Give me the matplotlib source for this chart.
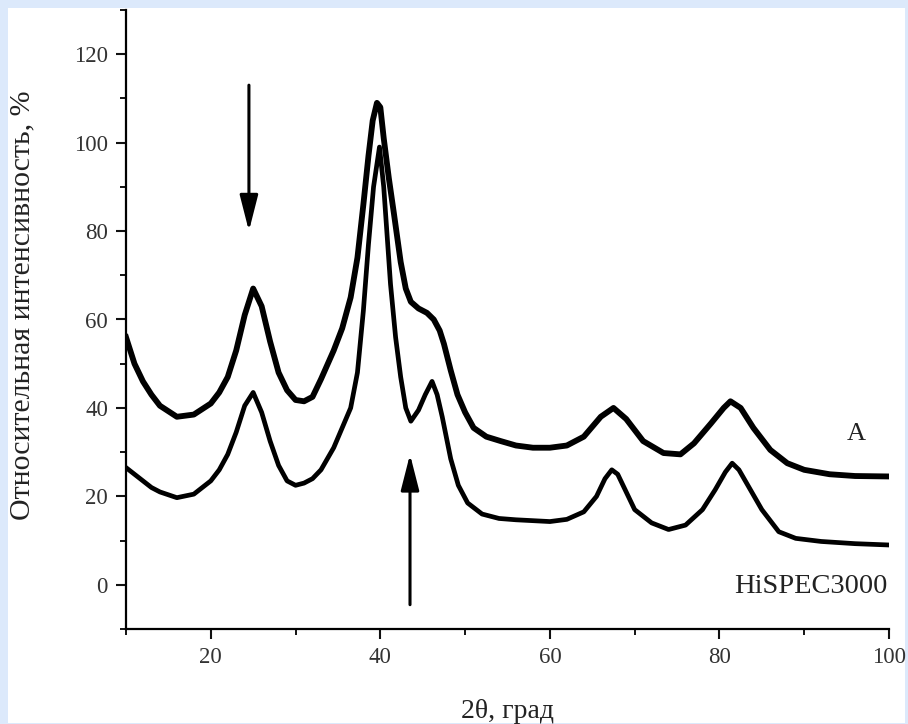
import matplotlib
matplotlib.use('Agg')
import matplotlib.pyplot as plt
from matplotlib.patches import Rectangle
from matplotlib.ticker import MultipleLocator

# образец A (верхняя кривая)
theta_a = [10, 11, 12, 13, 14, 16, 18, 20, 21, 22, 23, 24, 25, 26, 27, 28, 29,
           30, 31, 32, 33, 34.5, 35.5, 36.5, 37.3, 38, 38.6, 39.1, 39.6, 40,
           40.4, 41, 41.6, 42.4, 43, 43.6, 44.5, 45.5, 46.3, 47, 47.5, 48.3,
           49.1, 50, 51, 52.5, 54.2, 56, 58, 60, 62, 64, 66, 67.5, 69, 71,
           73.4, 75.4, 77, 79, 80.5, 81.3, 82.5, 84, 86, 88, 90, 93, 96, 100]
int_a = [56, 50, 46, 43, 40.5, 38, 38.5, 41, 43.5, 47, 53, 61, 67, 63, 55,
         48, 44, 41.8, 41.5, 42.5, 46.5, 53, 58, 65, 74, 86, 97, 105, 109,
         108, 101, 92, 84, 73, 67, 64, 62.5, 61.5, 60, 57.5, 54.5, 48.5,
         43, 39, 35.5, 33.5, 32.5, 31.5, 31, 31, 31.5, 33.5, 38, 40, 37.5,
         32.5, 29.8, 29.5, 32, 36.5, 40, 41.5, 40, 35.5, 30.5, 27.5, 26, 25,
         24.6, 24.5]

# HiSPEC3000 (нижняя кривая)
theta_b = [10, 11, 12, 13, 14, 16, 18, 20, 21, 22, 23, 24, 25, 26, 27, 28, 29,
           30, 31, 32, 33, 34.5, 36.5, 37.3, 38, 38.6, 39.2, 39.9, 40.4, 41.2,
           41.8, 42.4, 43, 43.6, 44.5, 45.3, 46.1, 46.7, 47.3, 48.3, 49.2,
           50.3, 52, 54, 56, 58, 60, 62, 64, 65.5, 66.5, 67.3, 68, 69, 70, 72,
           74, 76, 78, 79.5, 80.7, 81.5, 82.3, 83.5, 85, 87, 89, 92, 96, 100]
int_b = [26.5, 25, 23.5, 22, 21, 19.7, 20.5, 23.5, 26, 29.5, 34.5, 40.5, 43.5,
         39, 32.5, 27, 23.5, 22.5, 23, 24, 26, 31, 40, 48, 62, 77, 90, 99, 90,
         68, 56, 47, 40, 37, 39.5, 43, 46, 43, 38, 28.5, 22.5, 18.5, 16, 15,
         14.7, 14.5, 14.3, 14.8, 16.5, 20, 24, 26, 25, 21, 17, 14, 12.5, 13.5,
         17, 21.5, 25.5, 27.5, 26, 22, 17, 12, 10.5, 9.8, 9.3, 9]

font = 'Liberation Serif'
plt.rcParams['font.family'] = [font, 'DejaVu Serif']

fig = plt.figure(figsize=(9.08, 7.24), dpi=100)
fig.patch.set_facecolor('#dce9fb')
fig.patches.append(Rectangle((8 / 908, 1 / 724), 897 / 908, 715 / 724,
                             transform=fig.transFigure, facecolor='white',
                             edgecolor='none', zorder=-10))

ax = fig.add_axes([126 / 908, 1 - 629 / 724, 763 / 908, 619 / 724])
ax.set_facecolor('none')

ax.plot(theta_a, int_a, color='black', lw=4.2, solid_joinstyle='round')
ax.plot(theta_b, int_b, color='black', lw=3.4, solid_joinstyle='round')

# стрелки
arrow = dict(arrowstyle='-|>,head_length=1.1,head_width=0.28',
             color='black', lw=2.2, mutation_scale=20, shrinkA=0, shrinkB=0)
ax.annotate('', xy=(24.5, 80), xytext=(24.5, 113), arrowprops=arrow)
ax.annotate('', xy=(43.5, 29.5), xytext=(43.5, -4.5), arrowprops=arrow)

ax.text(97.3, 34, 'A', fontsize=19, ha='right', va='center', color='#222222')
ax.text(99.8, -0.3, 'HiSPEC3000', fontsize=20.5, ha='right', va='center',
        color='#222222')

ax.set_xlim(10, 100)
ax.set_ylim(-10, 130)
ax.xaxis.set_major_locator(MultipleLocator(20))
ax.xaxis.set_minor_locator(MultipleLocator(10))
ax.yaxis.set_major_locator(MultipleLocator(20))
ax.yaxis.set_minor_locator(MultipleLocator(10))
ax.set_yticks([0, 20, 40, 60, 80, 100, 120])

for s in ['top', 'right']:
    ax.spines[s].set_visible(False)
for s in ['left', 'bottom']:
    ax.spines[s].set_linewidth(1.6)

ax.tick_params(which='major', direction='out', length=7, width=1.5,
               labelsize=16.5, pad=6, colors='#111111', labelcolor='#333333')
ax.tick_params(which='minor', direction='out', length=4, width=1.3)

ax.set_xlabel('2θ, град', fontsize=20, color='#222222', labelpad=22)
ax.set_ylabel('Относительная интенсивность, %', fontsize=21.5,
              color='#222222')
ax.yaxis.set_label_coords(-0.119, 0.523)

fig.savefig('out.png', dpi=100, facecolor=fig.get_facecolor())
